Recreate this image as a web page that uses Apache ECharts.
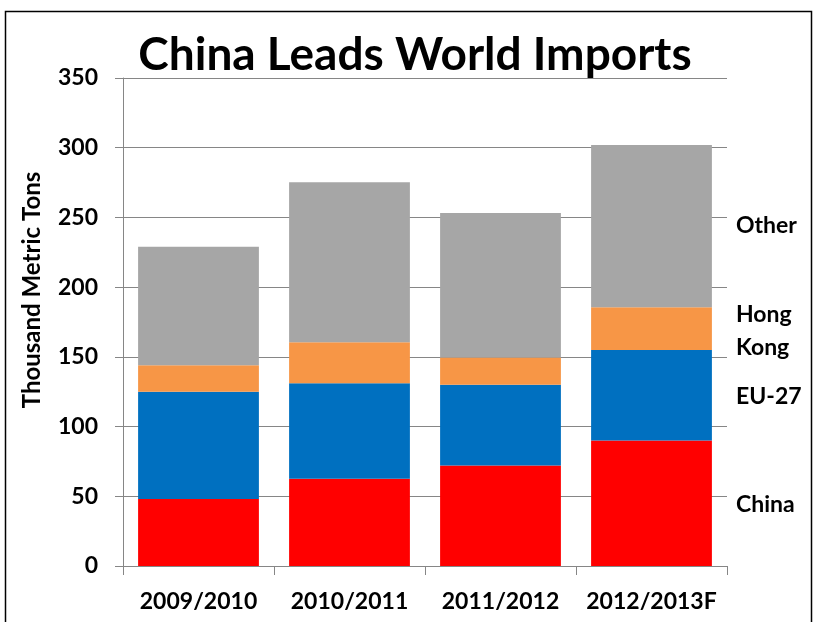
<!DOCTYPE html>
<html>
<head>
<meta charset="utf-8">
<script src="https://cdn.jsdelivr.net/npm/echarts@6/dist/echarts.min.js"></script>
<style>html,body{margin:0;padding:0;background:#fff}#c{width:817px;height:622px}</style>
</head>
<body>
<div id="c"></div>
<script>
const categories = ['2009/2010', '2010/2011', '2011/2012', '2012/2013F'];
const china = [48, 62.5, 72, 90];
const eu27 = [77, 68.5, 58, 65];
const hongKong = [19, 29.5, 19.5, 30.5];
const other = [85, 114.7, 103.7, 116.5];
const yTicks = [0, 50, 100, 150, 200, 250, 300, 350];

const FONT = 'Lato';
const chart = echarts.init(document.getElementById('c'));
const seriesDefs = [
  {name: 'China', data: china, color: '#FF0000'},
  {name: 'EU-27', data: eu27, color: '#0070C0'},
  {name: 'Hong Kong', data: hongKong, color: '#F79646'},
  {name: 'Other', data: other, color: '#A6A6A6'}
];
const sideLabel = (text, y) => ({
  type: 'text', x: 736, y: y,
  style: {text: text, fontFamily: FONT, fontWeight: 'bold', fontSize: 23, fill: '#000', textVerticalAlign: 'middle'}
});
chart.setOption({
  animation: false,
  backgroundColor: '#fff',
  grid: {left: 123, right: 90, top: 78, bottom: 56},
  xAxis: {
    type: 'category', data: categories,
    axisLine: {lineStyle: {color: '#868686', width: 1}},
    axisTick: {show: true, interval: 0, length: 9, lineStyle: {color: '#868686'}},
    axisLabel: {interval: 0, hideOverlap: false, fontFamily: FONT, fontWeight: 'bold', fontSize: 23, color: '#000', margin: 24}
  },
  yAxis: {
    type: 'value', min: yTicks[0], max: yTicks[yTicks.length - 1], interval: 50,
    axisLine: {show: true, lineStyle: {color: '#868686', width: 1}},
    axisTick: {show: true, length: 8, lineStyle: {color: '#868686'}},
    splitLine: {lineStyle: {color: '#868686', width: 1}},
    axisLabel: {fontFamily: FONT, fontWeight: 'bold', fontSize: 23, color: '#000', margin: 25}
  },
  series: seriesDefs.map(s => ({
    name: s.name, type: 'bar', stack: 'total', data: s.data,
    barCategoryGap: '20%',
    itemStyle: {color: s.color}
  })),
  graphic: [
    {type: 'rect', shape: {x: 5.5, y: 11.5, width: 806, height: 640}, style: {fill: 'none', stroke: '#000', lineWidth: 1.5}, z: 100},
    {type: 'text', x: 415, y: 55, style: {text: 'China Leads World Imports', fontFamily: FONT, fontWeight: 'bold', fontSize: 46, fill: '#000', textAlign: 'center', textVerticalAlign: 'middle'}},
    {type: 'text', x: 32, y: 290, rotation: Math.PI / 2, style: {text: 'Thousand Metric Tons', fontFamily: FONT, fontWeight: 'bold', fontSize: 24, fill: '#000', textAlign: 'center', textVerticalAlign: 'middle'}},
    sideLabel('Other', 226),
    sideLabel('Hong', 315),
    sideLabel('Kong', 348),
    sideLabel('EU-27', 397),
    sideLabel('China', 505)
  ]
});
</script>
</body>
</html>
